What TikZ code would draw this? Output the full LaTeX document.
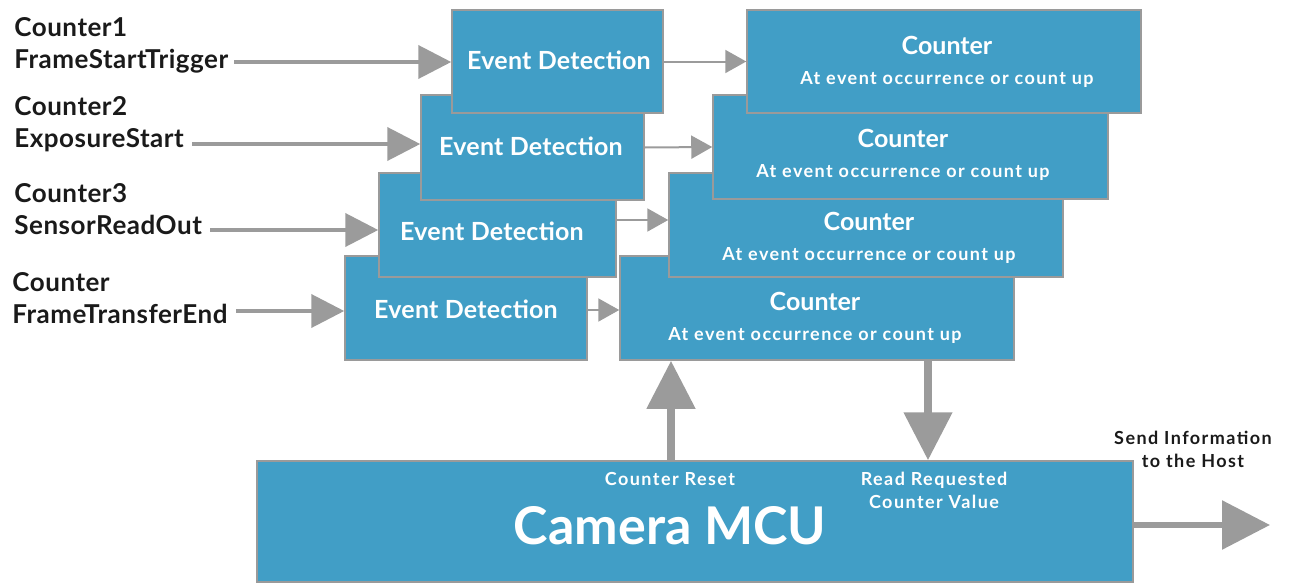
\documentclass[tikz,border=0pt]{standalone}
\usepackage{fontspec}
\setmainfont{Lato}
\usetikzlibrary{arrows.meta}
\definecolor{boxblue}{HTML}{419EC6}
\definecolor{arrgray}{HTML}{9B9B9B}
\definecolor{bordergray}{HTML}{9A9A9A}
\definecolor{labelblack}{HTML}{1A1A1A}
\begin{document}
\begin{tikzpicture}[x=0.5pt,y=-0.5pt,
  box/.style={draw=bordergray,line width=0.75pt,fill=boxblue,text=white,inner sep=0pt,anchor=center},
  edtext/.style={font=\fontsize{12.5}{14}\selectfont\bfseries\addfontfeatures{LetterSpace=1}},
  cnttext/.style={align=center,font=\fontsize{12.5}{14}\selectfont\bfseries},
  lbl/.style={align=left,anchor=west,text=labelblack,font=\fontsize{13}{16}\selectfont\bfseries\addfontfeatures{LetterSpace=2},inner sep=0pt},
  smallw/.style={text=white,align=center,font=\fontsize{9}{11.5}\selectfont\bfseries\addfontfeatures{LetterSpace=8},inner sep=0pt},
  inarrow/.style={draw=arrgray,line width=2pt,-{Triangle[length=16.5pt,width=16.5pt]}},
  smarrow/.style={draw=arrgray,line width=1pt,-{Triangle[length=10.5pt,width=11.5pt]}},
  vbig/.style={draw=arrgray,line width=4pt,-{Triangle[length=24pt,width=23.5pt]}},
  hbig/.style={draw=arrgray,line width=3pt,-{Triangle[length=24pt,width=24pt]}},
]
\useasboundingbox (0,0) rectangle (1291,584);
\newcommand{\subt}{{\fontsize{9}{10}\selectfont\addfontfeatures{LetterSpace=8}At event occurrence or count up}}
% event detection boxes (bottom first)
\node[box,minimum width=121pt,minimum height=52pt] (ed4) at (466,308) {};
\node[edtext,text=white] at (466,309) {Event Detection};
\node[box,minimum width=118.5pt,minimum height=52pt] (ed3) at (497.5,225) {};
\node[edtext,text=white] at (492,231) {Event Detection};
\node[box,minimum width=111.5pt,minimum height=52.5pt] (ed2) at (532.5,147.5) {};
\node[edtext,text=white] at (531,146) {Event Detection};
\node[box,minimum width=105.5pt,minimum height=51.5pt] (ed1) at (557.5,61.5) {};
\node[edtext,text=white] at (559,60) {Event Detection};
% counter boxes
\node[box,minimum width=197pt,minimum height=52pt] (c4) at (817,308) {};
\node[cnttext,text=white] at (815,318) {Counter\\[1pt]\subt};
\node[box,minimum width=197pt,minimum height=52pt] (c3) at (866,225) {};
\node[cnttext,text=white] at (869,238) {Counter\\[1pt]\subt};
\node[box,minimum width=197.5pt,minimum height=52pt] (c2) at (910.5,147) {};
\node[cnttext,text=white] at (903,155) {Counter\\[1pt]\subt};
\node[box,minimum width=197pt,minimum height=51.5pt] (c1) at (944,61.5) {};
\node[cnttext,text=white] at (947,62) {Counter\\[1pt]\subt};
% MCU
\node[box,minimum width=438pt,minimum height=60.5pt] (mcu) at (695,521.5) {};
\node[text=white,font=\fontsize{26}{30}\selectfont\bfseries,inner sep=0pt] (mcut) at (670,526) {Camera MCU};
\node[smallw] (reset) at (670,479) {Counter Reset};
\node[smallw] (readv) at (934,490) {Read Requested\\Counter Value};
\node[smallw,text=labelblack] (host) at (1193,449) {Send Information\\to the Host};
% labels
\node[lbl] (l1) at (14,45) {Counter1\\FrameStartTrigger};
\node[lbl] (l2) at (14,124) {Counter2\\ExposureStart};
\node[lbl] (l3) at (14,209) {Counter3\\SensorReadOut};
\node[lbl] (l4) at (12,298) {Counter\\FrameTransferEnd};
% arrow start coordinates
\coordinate (s1) at (234,62);
\coordinate (s2) at (192,144);
\coordinate (s3) at (210,230);
\coordinate (s4) at (236,311);
\coordinate (ux) at (671,0);
\coordinate (dx) at (928,0);
\coordinate (hostend) at (1270,525);
% input arrows
\draw[inarrow] (s1) -- (s1 -| ed1.west);
\draw[inarrow] (s2) -- (s2 -| ed2.west);
\draw[inarrow] (s3) -- (s3 -| ed3.west);
\draw[inarrow] (s4) -- (s4 -| ed4.west);
% small arrows
\draw[smarrow] (ed1.east) -- (c1.west);
\draw[smarrow] (ed2.east) -- (c2.west);
\draw[smarrow] ([yshift=2.5pt]ed3.east) -- ([yshift=2.5pt]c3.west);
\draw[smarrow] ([yshift=-1pt]ed4.east) -- ([yshift=-1pt]c4.west);
% vertical arrows
\draw[vbig] (mcu.north -| ux) -- (c4.south -| ux);
\draw[vbig] (c4.south -| dx) -- (mcu.north -| dx);
\draw[hbig] (mcu.east |- hostend) -- (hostend);
\end{tikzpicture}
\end{document}
